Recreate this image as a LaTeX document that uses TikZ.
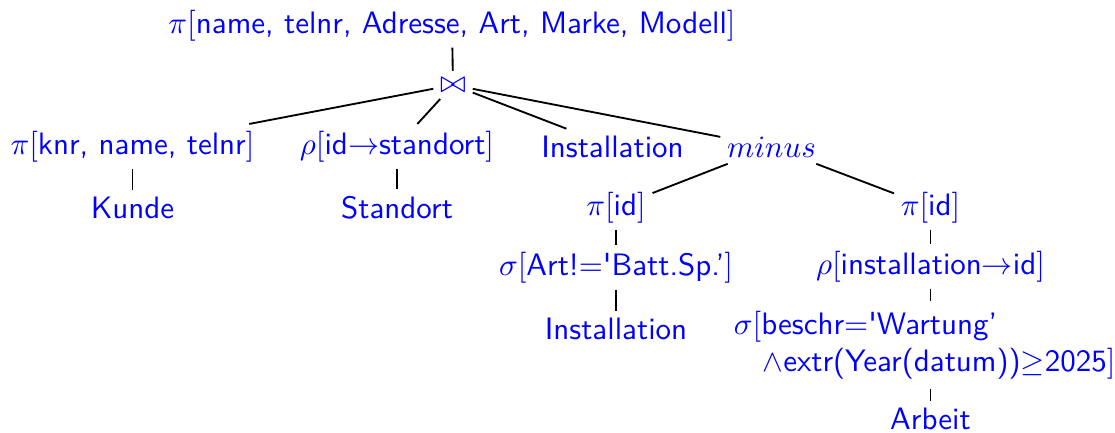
\documentclass[tikz,border=0pt]{standalone}
\begin{document}
\begin{tikzpicture}[x=0.32258pt,y=-0.32258pt,
  every node/.style={font=\sffamily, text=blue, inner sep=2pt},
  lbl/.style={anchor=base},
  conn/.style={draw=black, line width=0.6pt}]
\useasboundingbox (0,0) rectangle (1115,432);
% level 0
\node[lbl] (root) at (452,33) {$\pi[$name, telnr, Adresse, Art, Marke, Modell$]$};
\node (join) at (453,85) {$\bowtie$};
% level 1
\node[lbl] (knr) at (132.5,154) {$\pi[$knr, name, telnr$]$};
\node[lbl] (rhoA) at (397,154) {$\rho[$id$\rightarrow$standort$]$};
\node[lbl] (instA) at (612.5,157) {Installation};
\node[lbl] (minus) at (771.5,157) {$minus$};
% level 2
\node[lbl] (kunde) at (132.5,218.5) {Kunde};
\node[lbl] (standort) at (397,218.5) {Standort};
\node[lbl] (pidL) at (616,215) {$\pi[$id$]$};
\node[lbl] (pidR) at (930.5,215) {$\pi[$id$]$};
% level 3
\node[lbl] (sigA) at (616,275) {$\sigma[$Art!$=$\textquotesingle Batt.Sp.'$]$};
\node[lbl] (rhoB) at (930.5,274) {$\rho[$installation$\rightarrow$id$]$};
% level 4
\node[lbl] (instB) at (616,339) {Installation};
\node[anchor=north west, align=left, inner xsep=2pt, inner ysep=3pt] (sigB) at (727,301.4)
  {$\sigma[$beschr$=$\textquotesingle Wartung'\\\hspace{9.3pt}$\wedge$extr(Year(datum))$\geq$2025$]$};
% level 5
\node[lbl] (arbeit) at (930.5,429) {Arbeit};
% connectors
\draw[conn] (root) -- (join);
\draw[conn] (join) -- (knr);
\draw[conn] (join) -- (rhoA);
\draw[conn] (join) -- (instA);
\draw[conn] (join) -- (minus);
\draw[conn] (knr) -- (kunde);
\draw[conn] (rhoA) -- (standort);
\draw[conn] (minus) -- (pidL);
\draw[conn] (minus) -- (pidR);
\draw[conn] (pidL) -- (sigA);
\draw[conn] (sigA) -- (instB);
\draw[conn] (pidR) -- (rhoB);
\draw[conn] (rhoB) -- (rhoB |- sigB.north);
\draw[conn] (arbeit |- sigB.south) -- (arbeit);
\end{tikzpicture}
\end{document}
